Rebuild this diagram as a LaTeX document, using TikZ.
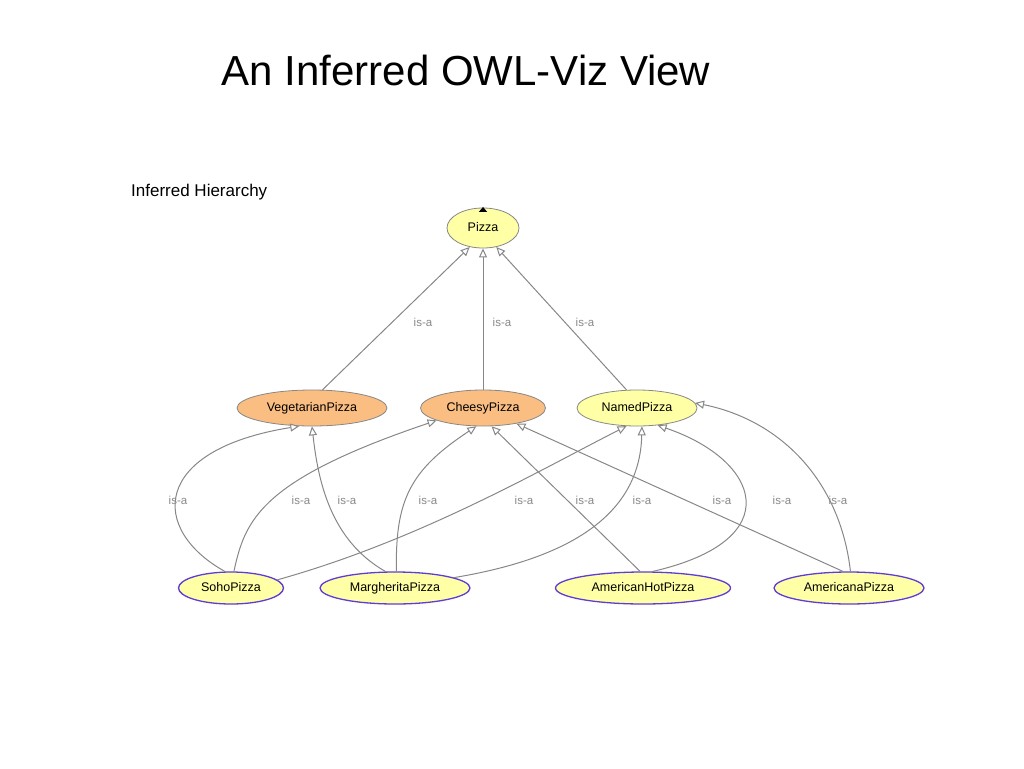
\documentclass[tikz,border=0pt]{standalone}
\usepackage{fontspec}
\setmainfont{Liberation Sans}
\usetikzlibrary{arrows.meta,shapes.geometric}
\definecolor{cyel}{RGB}{255,255,165}
\definecolor{corg}{RGB}{250,190,130}
\definecolor{cpur}{RGB}{95,60,215}
\definecolor{cgr}{RGB}{135,135,135}
\begin{document}
\begin{tikzpicture}[x=1pt,y=-1pt,
 cls/.style={ellipse,draw=cgr,line width=0.8pt,font=\fontsize{12.5}{13}\selectfont,inner sep=0pt,text height=9pt,text depth=2.5pt},
 top/.style={cls,fill=cyel},
 org/.style={cls,fill=corg},
 leaf/.style={cls,fill=cyel,draw=cpur,line width=1.3pt},
 isa/.style={draw=cgr,line width=1pt,-{Triangle[open,length=9pt,width=8pt,fill=white]}},
 lbl/.style={text=cgr,font=\fontsize{11.5}{12}\selectfont}]
\useasboundingbox (0,0) rectangle (1024,768);
\node (title) at (466,70) {\fontsize{42}{45}\selectfont An Inferred OWL-Viz View};
\node[anchor=west,inner sep=0pt] (ih) at (131,192) {\fontsize{17}{18}\selectfont Inferred Hierarchy};
\node[top,minimum width=72pt,minimum height=40pt] (pz) at (483,228) {Pizza};
\node[fill=black,isosceles triangle,shape border rotate=90,inner sep=0pt,minimum size=5pt,isosceles triangle apex angle=80] (mk) at (483,210) {};
\node[org,minimum width=150pt,minimum height=36pt] (veg) at (312,408) {VegetarianPizza};
\node[org,minimum width=125pt,minimum height=36pt] (che) at (483,408) {CheesyPizza};
\node[top,minimum width=120pt,minimum height=36pt] (nam) at (637,408) {NamedPizza};
\node[leaf,minimum width=105pt,minimum height=32pt] (soho) at (231,588) {SohoPizza};
\node[leaf,minimum width=150pt,minimum height=32pt] (mar) at (395,588) {MargheritaPizza};
\node[leaf,minimum width=175pt,minimum height=32pt] (ahp) at (643,588) {AmericanHotPizza};
\node[leaf,minimum width=150pt,minimum height=32pt] (ame) at (849,588) {AmericanaPizza};
% top level
\draw[isa] (veg.60) -- (pz.235);
\draw[isa] (che) -- (pz);
\draw[isa] (nam.120) -- (pz.305);
\node[lbl] at (423,322) {is-a};
\node[lbl] at (502,322) {is-a};
\node[lbl] at (585,322) {is-a};
% lower
\draw[isa] (soho.110) .. controls (150,530) and (150,450) .. (veg.235);
\draw[isa] (soho.80) .. controls (245,520) and (260,480) .. (che.195);
\draw[isa] (soho.10) .. controls (420,540) and (540,470) .. (nam.240);
\draw[isa] (mar.120) .. controls (330,540) and (318,480) .. (veg.270);
\draw[isa] (mar.85) .. controls (395,500) and (410,470) .. (che.250);
\draw[isa] (mar.10) .. controls (560,560) and (640,520) .. (nam.285);
\draw[isa] (ahp.100) -- (che.295);
\draw[isa] (ahp.60) .. controls (790,540) and (760,460) .. (nam.320);
\draw[isa] (ame.110) -- (che.335);
\draw[isa] (ame.85) .. controls (840,480) and (780,420) .. (nam.5);
\foreach \x in {178,301,347,428,524,585,642,722,782,838}
  \node[lbl] at (\x,500) {is-a};
\end{tikzpicture}
\end{document}
